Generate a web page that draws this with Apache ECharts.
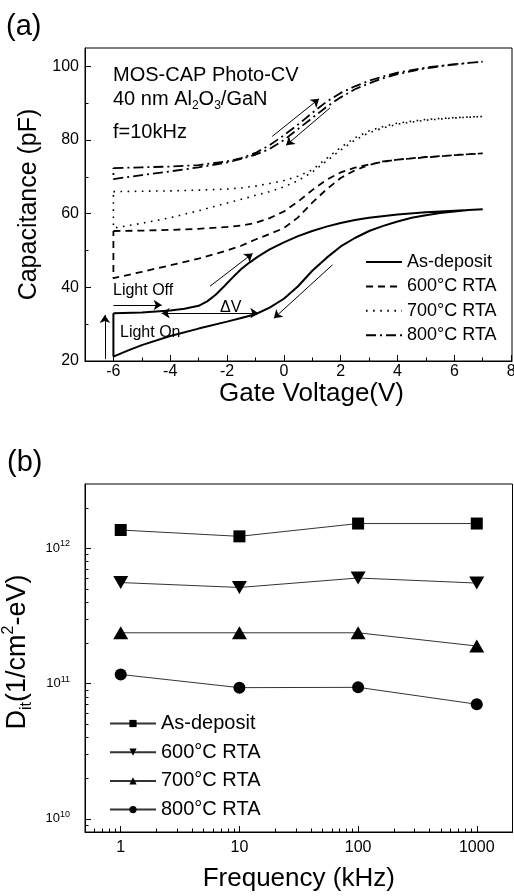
<!DOCTYPE html>
<html>
<head>
<meta charset="utf-8">
<title>Photo-CV and Dit</title>
<script src="https://cdn.jsdelivr.net/npm/echarts@6/dist/echarts.min.js"></script>
<style>
  html, body { margin: 0; padding: 0; background: #fff; }
  #chart { width: 514px; height: 896px; }
</style>
</head>
<body>
<div id="chart"></div>
<script>
// (a) photo C-V loops, points are [gate voltage (V), capacitance (pF)]
// "Up" = sweep after light off (-6 -> 7 V), "Down" = sweep back (7 -> -6 V)
var asDepositUp = [[-6,33.0],[-5,33.2],[-4,33.7],[-3.5,34.2],[-3,35.0],[-2.7,36.2],[-2.4,38.0],[-2.1,40.3],[-1.8,42.7],[-1.5,45.0],[-1.2,46.8],[-0.9,48.4],[-0.5,50.3],[0,52.2],[0.5,53.9],[1,55.3],[1.5,56.5],[2,57.5],[2.5,58.3],[3,58.9],[4,59.8],[5,60.4],[6,60.8],[7,61.2]];
var asDepositDown = [[6.5,61.0],[6,60.6],[5.5,60.2],[5,59.6],[4.5,58.9],[4,57.9],[3.5,56.7],[3,55.3],[2.5,53.4],[2,51.1],[1.5,48.0],[1,44.5],[0.5,40.3],[0,36.9],[-0.5,34.5],[-1,32.7],[-1.5,31.7],[-2,30.7],[-3,28.8],[-4,26.8],[-5,24.3],[-5.5,22.8],[-6,21.2]];

var rta600Up = [[-6,55.3],[-5,55.4],[-4,55.6],[-3,55.9],[-2,56.4],[-1.5,56.8],[-1,57.5],[-0.5,58.8],[0,60.6],[0.5,63.3],[1,66.4],[1.5,69.2],[2,71.2],[2.5,72.5],[3,73.4],[3.5,74.1],[4,74.7],[5,75.4],[6,75.9],[7,76.4]];
var rta600Down = [[6,75.9],[5,75.3],[4,74.7],[3.5,74.2],[3,73.2],[2.5,71.8],[2,69.7],[1.5,66.6],[1,63.0],[0.5,59.0],[0,56.1],[-0.5,54.5],[-1,53.0],[-1.5,51.3],[-2,50.0],[-3,47.8],[-4,46.0],[-5,44.2],[-6,42.5]];

var rta700Up = [[-6,66.0],[-5,66.1],[-4,66.2],[-3,66.4],[-2,66.7],[-1.5,67.0],[-1,67.5],[-0.5,68.2],[0,69.0],[0.5,70.2],[1,71.9],[1.5,75.0],[2,78.0],[2.5,80.6],[3,82.5],[3.5,83.7],[4,84.6],[5,85.6],[6,86.1],[7,86.4]];
var rta700Down = [[6,86.0],[5,85.4],[4,84.3],[3.5,83.3],[3,82.0],[2.5,80.0],[2,77.3],[1.5,74.3],[1,71.3],[0.5,69.0],[0,67.3],[-0.5,66.0],[-1,65.0],[-1.5,63.9],[-2,62.9],[-3,60.8],[-4,58.9],[-5,57.4],[-6,56.1]];

var rta800Up = [[-6,72.4],[-5,72.6],[-4,72.8],[-3,73.2],[-2,74.2],[-1.5,75.1],[-1,76.5],[-0.5,78.6],[0,81.3],[0.5,84.2],[1,87.4],[1.5,90.4],[2,92.8],[2.5,94.6],[3,96.1],[3.5,97.3],[4,98.3],[5,99.7],[6,100.6],[7,101.3]];
var rta800Down = [[6,100.5],[5,99.5],[4,97.9],[3.5,96.8],[3,95.4],[2.5,93.8],[2,91.6],[1.5,89.0],[1,86.0],[0.5,83.0],[0,80.0],[-0.5,77.6],[-1,76.0],[-1.5,74.9],[-2,73.9],[-3,72.6],[-4,71.5],[-5,70.5],[-6,69.4]];

// (b) interface trap density vs frequency
var freqKHz = [1, 10, 100, 1000];
var ditAsDeposit = [1.37e12, 1.23e12, 1.53e12, 1.53e12];
var dit600 = [5.6e11, 5.15e11, 6.05e11, 5.55e11];
var dit700 = [2.38e11, 2.38e11, 2.38e11, 1.9e11];
var dit800 = [1.17e11, 9.35e10, 9.4e10, 7.05e10];

var sampleNames = ['As-deposit', '600°C RTA', '700°C RTA', '800°C RTA'];

// tick labels
var vTicks = [-6, -4, -2, 0, 2, 4, 6, 8];
var vMinor = [-5, -3, -1, 1, 3, 5, 7];
var cTicks = [20, 40, 60, 80, 100];
var cMinor = [30, 50, 70, 90];
var fTicks = [1, 10, 100, 1000];
var dTicks = [1e10, 1e11, 1e12];

var FONT = "'Liberation Sans', Arial, sans-serif";

function logMinor(decades, lo, hi) {
    var out = [];
    decades.forEach(function (d) {
        for (var m = 2; m <= 9; m++) {
            var v = m * d;
            if (v > lo && v < hi) out.push(v);
        }
    });
    return out;
}
var fMinor = logMinor([0.1, 1, 10, 100, 1000], 0.5, 2000);
var dMinor = logMinor([1e9, 1e10, 1e11, 1e12], 8e9, 3e12);

function loop(up, down) {
    return up.concat(down, [up[0]]);
}
function pairs(xs, ys) {
    return xs.map(function (x, i) { return [x, ys[i]]; });
}

function majorAxis(grid, type, pos, min, max, ticks, extra) {
    var ax = {
        gridIndex: grid, type: type, position: pos, min: min, max: max,
        axisLine: { show: true, onZero: false, lineStyle: { color: '#000', width: 1 } },
        axisTick: { inside: true, length: 6, customValues: ticks, lineStyle: { color: '#000' } },
        axisLabel: { customValues: ticks, color: '#000', fontFamily: FONT, fontSize: 16 },
        splitLine: { show: false }
    };
    for (var k in extra) {
        if (k === 'axisLabel') Object.assign(ax.axisLabel, extra[k]);
        else ax[k] = extra[k];
    }
    return ax;
}
function minorAxis(grid, type, pos, min, max, ticks) {
    return {
        gridIndex: grid, type: type, position: pos, min: min, max: max,
        axisLine: { show: false, onZero: false },
        axisTick: { inside: true, length: 3.5, customValues: ticks, lineStyle: { color: '#000' } },
        axisLabel: { show: false },
        splitLine: { show: false }
    };
}

var arrowStyle = { color: '#000', width: 1, type: 'solid' };
function arrow(x1, y1, x2, y2, both) {
    return [
        { coord: [x1, y1], symbol: both ? 'arrow' : 'none' },
        { coord: [x2, y2], symbol: 'arrow' }
    ];
}

var chart = echarts.init(document.getElementById('chart'));
var option = {
    animation: false,
    backgroundColor: '#fff',
    textStyle: { fontFamily: FONT },
    grid: [
        { left: 85, right: 2, top: 48, height: 313, show: true, borderColor: '#000', borderWidth: 1,
          containLabel: false, outerBoundsMode: 'none' },
        { left: 85, right: 1.5, top: 484, height: 348, show: true, borderColor: '#000', borderWidth: 1,
          containLabel: false, outerBoundsMode: 'none' }
    ],
    xAxis: [
        majorAxis(0, 'value', 'bottom', -7, 8.03, vTicks, {
            axisLabel: { margin: 3 },
            name: 'Gate Voltage(V)', nameLocation: 'middle', nameGap: 16,
            nameTextStyle: { color: '#000', fontFamily: FONT, fontSize: 26, padding: [0, 0, 0, 26] }
        }),
        minorAxis(0, 'value', 'bottom', -7, 8.03, vMinor),
        majorAxis(1, 'log', 'bottom', 0.5, 2000, fTicks, {
            axisLabel: { margin: 8, formatter: function (v) { return String(Math.round(v)); } },
            name: 'Frequency (kHz)', nameLocation: 'middle', nameGap: 34,
            nameTextStyle: { color: '#000', fontFamily: FONT, fontSize: 26 }
        }),
        minorAxis(1, 'log', 'bottom', 0.5, 2000, fMinor)
    ],
    yAxis: [
        majorAxis(0, 'value', 'left', 20, 105, cTicks, {
            axisLabel: { margin: 6 },
            name: 'Capacitance (pF)', nameLocation: 'middle', nameGap: 40,
            nameTextStyle: { color: '#000', fontFamily: FONT, fontSize: 25 }
        }),
        minorAxis(0, 'value', 'left', 20, 105, cMinor),
        majorAxis(1, 'log', 'left', 8e9, 3e12, dTicks, {
            axisLabel: {
                margin: 15,
                formatter: function (v) { return '{b|10}{e|' + Math.round(Math.log10(v)) + '}'; },
                rich: {
                    b: { fontSize: 13, lineHeight: 18, fontFamily: FONT, color: '#000' },
                    e: { fontSize: 9, verticalAlign: 'top', fontFamily: FONT, color: '#000' }
                }
            },
            name: '{a|D}{s|it}{a|(1/cm}{p|2}{a|-eV)}', nameLocation: 'middle', nameGap: 42,
            nameTextStyle: {
                color: '#000', fontFamily: FONT, padding: [0, 0, 0, 12],
                rich: {
                    a: { fontSize: 27, lineHeight: 34, fontFamily: FONT, color: '#000' },
                    s: { fontSize: 16, verticalAlign: 'bottom', fontFamily: FONT, color: '#000' },
                    p: { fontSize: 16, verticalAlign: 'top', fontFamily: FONT, color: '#000' }
                }
            }
        }),
        minorAxis(1, 'log', 'left', 8e9, 3e12, dMinor)
    ],
    legend: [
        {
            data: sampleNames,
            orient: 'vertical', left: 360, top: 248,
            itemWidth: 36, itemHeight: 14, itemGap: 6.4,
            itemStyle: { opacity: 0 },
            textStyle: { color: '#000', fontFamily: FONT, fontSize: 18, lineHeight: 18 },
            selectedMode: false
        },
        {
            data: sampleNames.map(function (n) { return 'b:' + n; }),
            formatter: function (n) { return n.slice(2); },
            orient: 'vertical', left: 104, top: 708.5,
            itemWidth: 46, itemHeight: 9, itemGap: 8.7,
            textStyle: { color: '#000', fontFamily: FONT, fontSize: 20, lineHeight: 20 },
            selectedMode: false
        }
    ],
    series: [
        {
            name: sampleNames[0], type: 'line', xAxisIndex: 0, yAxisIndex: 0,
            data: loop(asDepositUp, asDepositDown), symbol: 'none',
            lineStyle: { color: '#000', width: 2, type: 'solid' },
            markLine: {
                silent: true, symbolSize: 8, label: { show: false }, lineStyle: arrowStyle,
                data: [
                    arrow(-6.3, 20.5, -6.3, 32.5),
                    arrow(-6, 35.2, -4.3, 35.2),
                    arrow(-4.3, 33.0, -0.9, 33.0, true),
                    arrow(-2.6, 40.3, -1.1, 49.2),
                    arrow(1.71, 46.1, -0.35, 31.6),
                    arrow(-0.41, 81.0, 1.24, 91.2),
                    arrow(1.62, 88.7, 0.08, 78.6)
                ]
            }
        },
        {
            name: sampleNames[1], type: 'line', xAxisIndex: 0, yAxisIndex: 0,
            data: loop(rta600Up, rta600Down), symbol: 'none',
            lineStyle: { color: '#000', width: 1.8, type: [7, 5] }
        },
        {
            name: sampleNames[2], type: 'line', xAxisIndex: 0, yAxisIndex: 0,
            data: loop(rta700Up, rta700Down), symbol: 'none',
            lineStyle: { color: '#000', width: 1.6, type: [1.6, 5.5] }
        },
        {
            name: sampleNames[3], type: 'line', xAxisIndex: 0, yAxisIndex: 0,
            data: loop(rta800Up, rta800Down), symbol: 'none',
            lineStyle: { color: '#000', width: 1.8, type: [10, 4, 2, 4] }
        },
        {
            name: 'b:' + sampleNames[0], type: 'line', xAxisIndex: 2, yAxisIndex: 2,
            data: pairs(freqKHz, ditAsDeposit), symbol: 'rect', symbolSize: 12,
            itemStyle: { color: '#000' }, lineStyle: { color: '#333', width: 1 }
        },
        {
            name: 'b:' + sampleNames[1], type: 'line', xAxisIndex: 2, yAxisIndex: 2,
            data: pairs(freqKHz, dit600), symbol: 'triangle', symbolRotate: 180, symbolSize: [15, 13],
            itemStyle: { color: '#000' }, lineStyle: { color: '#333', width: 1 }
        },
        {
            name: 'b:' + sampleNames[2], type: 'line', xAxisIndex: 2, yAxisIndex: 2,
            data: pairs(freqKHz, dit700), symbol: 'triangle', symbolSize: [15, 13],
            itemStyle: { color: '#000' }, lineStyle: { color: '#333', width: 1 }
        },
        {
            name: 'b:' + sampleNames[3], type: 'line', xAxisIndex: 2, yAxisIndex: 2,
            data: pairs(freqKHz, dit800), symbol: 'circle', symbolSize: 12,
            itemStyle: { color: '#000' }, lineStyle: { color: '#333', width: 1 }
        }
    ],
    graphic: [
        { type: 'text', left: 6, top: 12, style: { text: '(a)', fill: '#000', font: '29px ' + FONT } },
        { type: 'text', left: 7, top: 448, style: { text: '(b)', fill: '#000', font: '29px ' + FONT } },
        { type: 'text', left: 113, top: 65, style: { text: 'MOS-CAP Photo-CV', fill: '#000', font: '20px ' + FONT } },
        {
            type: 'text', left: 113, top: 89,
            style: {
                text: '{a|40 nm Al}{s|2}{a|O}{s|3}{a|/GaN}',
                rich: {
                    a: { fontSize: 20, lineHeight: 26, fontFamily: FONT, fill: '#000' },
                    s: { fontSize: 12, verticalAlign: 'bottom', fontFamily: FONT, fill: '#000' }
                }
            }
        },
        { type: 'text', left: 113, top: 122, style: { text: 'f=10kHz', fill: '#000', font: '20px ' + FONT } },
        { type: 'text', left: 113, top: 283, style: { text: 'Light Off', fill: '#000', font: '16px ' + FONT } },
        { type: 'text', left: 120, top: 325, style: { text: 'Light On', fill: '#000', font: '16px ' + FONT } },
        { type: 'text', left: 220, top: 300, style: { text: 'ΔV', fill: '#000', font: '16px ' + FONT } }
    ]
};
chart.setOption(option);
</script>
</body>
</html>
